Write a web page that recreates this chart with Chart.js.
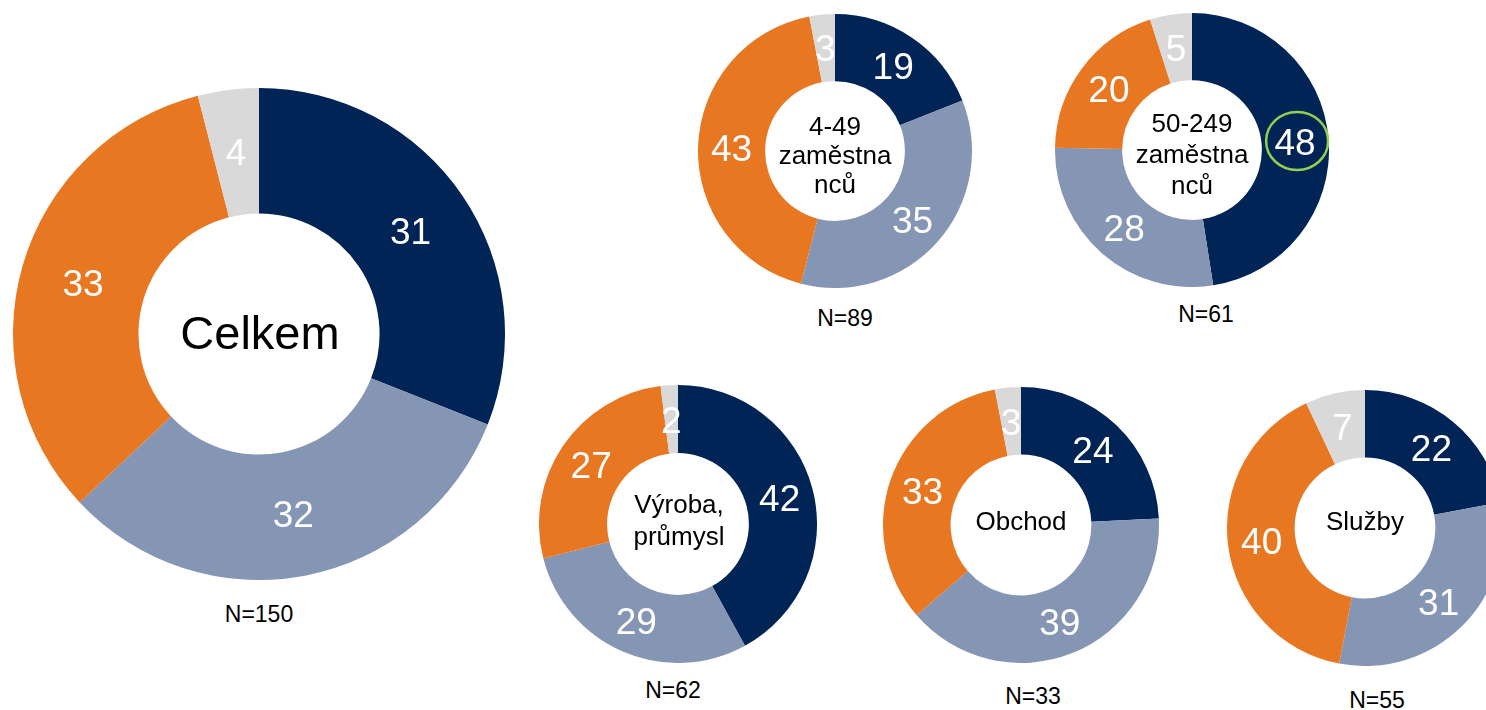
<!DOCTYPE html>
<html>
<head>
<meta charset="utf-8">
<script src="https://cdn.jsdelivr.net/npm/chart.js@4/dist/chart.umd.min.js"></script>
<style>
  html, body { margin: 0; padding: 0; background: #ffffff; width: 1486px; height: 710px; overflow: hidden; }
  #stage { position: relative; width: 1486px; height: 710px; overflow: hidden; font-family: "Liberation Sans", Arial, sans-serif; }
  canvas { position: absolute; }
  .txt { position: absolute; transform: translate(-50%, -50%); text-align: center; color: #000; white-space: nowrap; }
</style>
</head>
<body>
<div id="stage"></div>
<script>
// ---- DATA ----
const categories = ['Celkem', '4-49 zaměstnanců', '50-249 zaměstnanců', 'Výroba, průmysl', 'Obchod', 'Služby'];
const centerLabels = [['Celkem'], ['4-49', 'zaměstna', 'nců'], ['50-249', 'zaměstna', 'nců'], ['Výroba,', 'průmysl'], ['Obchod'], ['Služby']];
const segmentNames = ['A', 'B', 'C', 'D'];
const seriesA = [31, 19, 48, 42, 24, 22];   // navy
const seriesB = [32, 35, 28, 29, 39, 31];   // grey-blue
const seriesC = [33, 43, 20, 27, 33, 40];   // orange
const seriesD = [4, 3, 5, 2, 3, 7];         // light grey
const sampleSizes = [150, 89, 61, 62, 33, 55];
const highlighted = [null, null, 0, null, null, null]; // segment circled in green

// ---- STYLE / LAYOUT ----
const colors = ['#002456', '#8595B4', '#E87722', '#D9D9D9'];
const layout = [
  { cx: 259,  cy: 334, r: 246, cutout: '49%', valFont: 37, ctr: { x: 260,  y: 333, size: 47, lh: 50 }, n: { x: 259,  y: 614 } },
  { cx: 835,  cy: 151, r: 137, cutout: '51%', valFont: 37, ctr: { x: 835,  y: 155, size: 26, lh: 29 }, n: { x: 845,  y: 318 } },
  { cx: 1192, cy: 150, r: 137, cutout: '51%', valFont: 37, ctr: { x: 1192, y: 154, size: 26, lh: 31 }, n: { x: 1206, y: 314 } },
  { cx: 678,  cy: 524, r: 139, cutout: '51%', valFont: 37, ctr: { x: 679,  y: 520, size: 26, lh: 32 }, n: { x: 673,  y: 690 } },
  { cx: 1021, cy: 525, r: 138, cutout: '51%', valFont: 37, ctr: { x: 1021, y: 521, size: 26, lh: 30 }, n: { x: 1033, y: 696 } },
  { cx: 1365, cy: 528, r: 138, cutout: '51%', valFont: 37, ctr: { x: 1365, y: 521, size: 26, lh: 30 }, n: { x: 1377, y: 700 } }
];

const valueLabels = {
  id: 'valueLabels',
  afterDatasetsDraw(chart, args, opts) {
    const ctx = chart.ctx;
    const meta = chart.getDatasetMeta(0);
    const data = chart.data.datasets[0].data;
    ctx.save();
    ctx.font = opts.size + 'px "Liberation Sans", Arial, sans-serif';
    ctx.fillStyle = '#ffffff';
    ctx.textAlign = 'center';
    ctx.textBaseline = 'alphabetic';
    meta.data.forEach((arc, i) => {
      const p = arc.tooltipPosition();
      ctx.fillText(String(data[i]), p.x, p.y + opts.size * 0.358);
      if (opts.highlight === i) {
        ctx.strokeStyle = '#92D050';
        ctx.lineWidth = 2.5;
        ctx.beginPath();
        ctx.ellipse(p.x + 2, p.y - 1, 31, 29, 0, 0, Math.PI * 2);
        ctx.stroke();
      }
    });
    ctx.restore();
  }
};

const stage = document.getElementById('stage');
categories.forEach((cat, k) => {
  const L = layout[k];
  const size = L.r * 2;
  const canvas = document.createElement('canvas');
  canvas.width = size; canvas.height = size;
  canvas.style.width = size + 'px'; canvas.style.height = size + 'px';
  canvas.style.left = (L.cx - L.r) + 'px';
  canvas.style.top = (L.cy - L.r) + 'px';
  stage.appendChild(canvas);

  new Chart(canvas, {
    type: 'doughnut',
    data: {
      labels: segmentNames,
      datasets: [{
        label: cat,
        data: [seriesA[k], seriesB[k], seriesC[k], seriesD[k]],
        backgroundColor: colors,
        borderWidth: 0,
        hoverOffset: 0,
        offset: 0,
        spacing: 0
      }]
    },
    options: {
      responsive: false,
      maintainAspectRatio: false,
      animation: false,
      events: [],
      cutout: L.cutout,
      layout: { padding: 0 },
      plugins: {
        legend: { display: false },
        tooltip: { enabled: false },
        title: { display: false },
        valueLabels: { size: L.valFont, highlight: highlighted[k] }
      }
    },
    plugins: [valueLabels]
  });

  const c = document.createElement('div');
  c.className = 'txt';
  c.style.left = L.ctr.x + 'px';
  c.style.top = L.ctr.y + 'px';
  c.style.fontSize = L.ctr.size + 'px';
  c.style.lineHeight = L.ctr.lh + 'px';
  c.innerHTML = centerLabels[k].join('<br>');
  stage.appendChild(c);

  const n = document.createElement('div');
  n.className = 'txt';
  n.style.left = L.n.x + 'px';
  n.style.top = L.n.y + 'px';
  n.style.fontSize = '23px';
  n.style.lineHeight = '26px';
  n.textContent = 'N=' + sampleSizes[k];
  stage.appendChild(n);
});
</script>
</body>
</html>
